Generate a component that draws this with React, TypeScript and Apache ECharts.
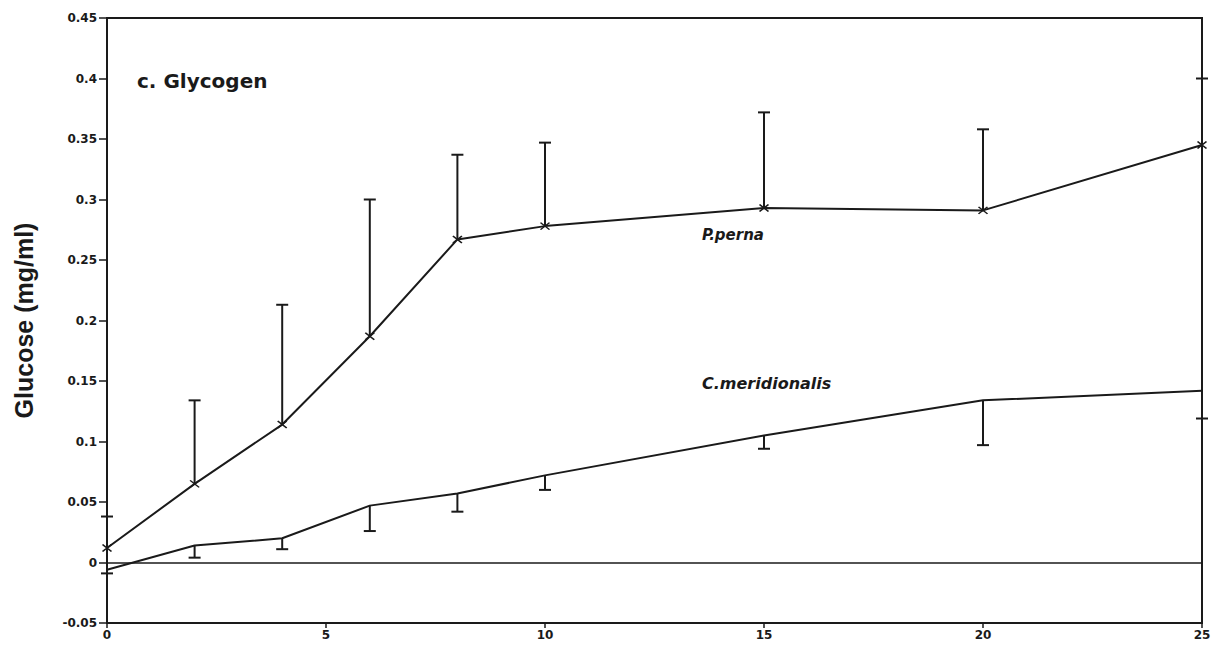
import React, { useEffect, useRef } from "react";
import * as echarts from "echarts";

const timePoints = [0, 2, 4, 6, 8, 10, 15, 20, 25];
const pPernaMean = [0.012, 0.065, 0.114, 0.187, 0.267, 0.278, 0.293, 0.291, 0.345];
const pPernaUpper = [0.038, 0.134, 0.213, 0.3, 0.337, 0.347, 0.372, 0.358, 0.4];
const cMeridMean = [-0.006, 0.014, 0.02, 0.047, 0.057, 0.072, 0.105, 0.134, 0.142];
const cMeridLower = [-0.009, 0.004, 0.011, 0.026, 0.042, 0.06, 0.094, 0.097, 0.119];
const xTicks = [0, 5, 10, 15, 20, 25];
const yTicks = [-0.05, 0, 0.05, 0.1, 0.15, 0.2, 0.25, 0.3, 0.35, 0.4, 0.45];

const INK = "#1a1a1a";
const FONT = "DejaVu Sans";

function errorBarSeries(name: string, means: number[], ends: number[]) {
  const data = timePoints.map((t, i) => [t, means[i], ends[i]]);
  return {
    type: "custom",
    name,
    data,
    z: 3,
    renderItem: (params: any, api: any) => {
      const x = api.value(0);
      const p0 = api.coord([x, api.value(1)]);
      const p1 = api.coord([x, api.value(2)]);
      const half = 6;
      const style = { stroke: INK, lineWidth: 2 };
      return {
        type: "group",
        children: [
          { type: "line", shape: { x1: p0[0], y1: p0[1], x2: p1[0], y2: p1[1] }, style },
          { type: "line", shape: { x1: p1[0] - half, y1: p1[1], x2: p1[0] + half, y2: p1[1] }, style },
        ],
      };
    },
  };
}

export default function App() {
  const ref = useRef<HTMLDivElement>(null);
  useEffect(() => {
    if (!ref.current) return;
    const chart = echarts.init(ref.current, null, { renderer: "svg" });
    const fmt = (v: number) => String(parseFloat(v.toFixed(2)));
    chart.setOption({
      animation: false,
      backgroundColor: "#ffffff",
      grid: {
        left: 107,
        right: 17,
        top: 18,
        bottom: 26,
        show: true,
        borderColor: INK,
        borderWidth: 2,
        backgroundColor: "transparent",
      },
      xAxis: {
        type: "value",
        min: 0,
        max: 25,
        interval: 5,
        axisLine: { show: true, onZero: false, lineStyle: { color: INK, width: 2 } },
        axisTick: { show: true, inside: false, length: 5, lineStyle: { color: INK, width: 1.5 } },
        axisLabel: {
          color: INK,
          fontFamily: FONT,
          fontWeight: "bold",
          fontSize: 12,
          margin: 6,
          formatter: (v: number) => (xTicks.includes(v) ? String(v) : ""),
        },
        splitLine: { show: false },
      },
      yAxis: {
        type: "value",
        min: -0.05,
        max: 0.45,
        interval: 0.05,
        name: "Glucose (mg/ml)",
        nameLocation: "middle",
        nameGap: 71,
        nameTextStyle: {
          color: INK,
          fontFamily: "Liberation Sans",
          fontWeight: "bold",
          fontSize: 25,
        },
        axisLine: { show: true, onZero: false, lineStyle: { color: INK, width: 2 } },
        axisTick: { show: true, inside: false, length: 8, lineStyle: { color: INK, width: 1.5 } },
        axisLabel: {
          color: INK,
          fontFamily: FONT,
          fontWeight: "bold",
          fontSize: 12,
          margin: 10,
          formatter: (v: number) => {
            const f = parseFloat(v.toFixed(2));
            return yTicks.some((t) => Math.abs(t - f) < 1e-9) ? fmt(v) : "";
          },
        },
        splitLine: { show: false },
      },
      graphic: [
        {
          type: "text",
          left: 137,
          top: 71,
          style: {
            text: "c. Glycogen",
            fill: INK,
            font: `bold 20px "${FONT}"`,
          },
        },
        {
          type: "text",
          left: 702,
          top: 227,
          style: {
            text: "P.perna",
            fill: INK,
            font: `italic bold 15px "${FONT}"`,
          },
        },
        {
          type: "text",
          left: 702,
          top: 375,
          style: {
            text: "C.meridionalis",
            fill: INK,
            font: `italic bold 16px "${FONT}"`,
          },
        },
      ],
      series: [
        {
          type: "line",
          name: "P.perna",
          data: timePoints.map((t, i) => [t, pPernaMean[i]]),
          symbol: "path://M0,0L10,8M10,0L0,8",
          symbolSize: [9, 7],
          showSymbol: true,
          lineStyle: { color: INK, width: 2 },
          itemStyle: { color: INK, borderColor: INK, borderWidth: 1.5 },
          z: 4,
          markLine: {
            silent: true,
            symbol: ["none", "none"],
            label: { show: false },
            lineStyle: { color: INK, width: 1.5, type: "solid" },
            data: [{ yAxis: 0 }],
          },
        },
        {
          type: "line",
          name: "C.meridionalis",
          data: timePoints.map((t, i) => [t, cMeridMean[i]]),
          symbol: "path://M5,0L5,10",
          symbolSize: [2, 7],
          showSymbol: true,
          lineStyle: { color: INK, width: 2 },
          itemStyle: { color: INK, borderColor: INK, borderWidth: 1.5 },
          z: 4,
        },
        errorBarSeries("P.perna SE", pPernaMean, pPernaUpper),
        errorBarSeries("C.meridionalis SE", cMeridMean, cMeridLower),
      ],
    });
    return () => chart.dispose();
  }, []);
  return (
    <div
      ref={ref}
      style={{ position: "absolute", left: 0, top: 0, width: 1219, height: 649 }}
    />
  );
}
